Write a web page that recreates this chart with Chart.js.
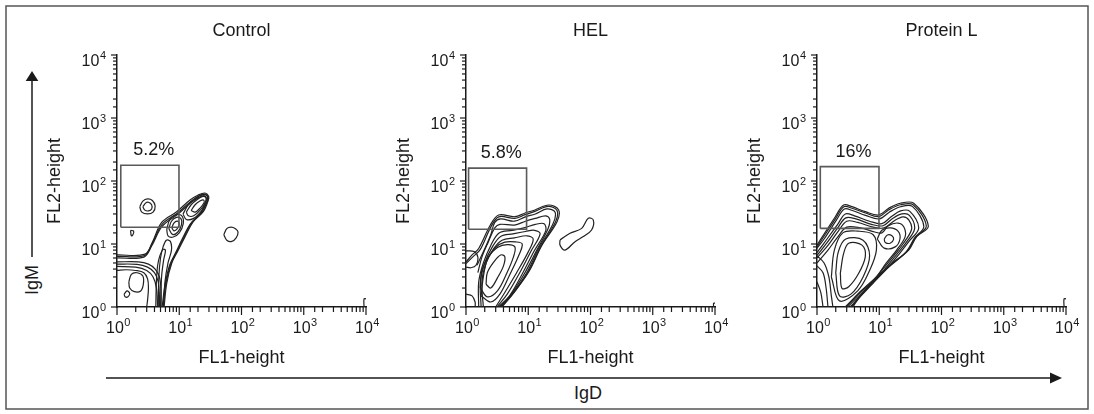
<!DOCTYPE html>
<html>
<head>
<meta charset="utf-8">
<script src="https://cdn.jsdelivr.net/npm/chart.js@4.4.1/dist/chart.umd.min.js"></script>
<style>
  body { margin: 0; background: #fff; }
  #fig { position: relative; width: 1094px; height: 414px; font-family: 'Liberation Sans', Arial, sans-serif; }
  #fig canvas { position: absolute; top: 0; }
  #deco { position: absolute; left: 0; top: 0; }
</style>
</head>
<body>
<div id="fig">
  <svg id="deco" width="1094" height="414">
    <rect x="6" y="6" width="1082" height="403" fill="none" stroke="#555" stroke-width="1.5"/>
    <line x1="106" y1="378" x2="1051" y2="378" stroke="#1a1a1a" stroke-width="1.5"/>
    <polygon points="1062,378 1050,372.5 1050,383.5" fill="#1a1a1a"/>
    <line x1="32" y1="80" x2="32" y2="257" stroke="#1a1a1a" stroke-width="1.5"/>
    <polygon points="32,71 25.7,81 38.3,81" fill="#1a1a1a"/>
    <text x="588" y="394" text-anchor="middle" dominant-baseline="middle" font-size="18" fill="#1a1a1a">IgD</text>
    <text transform="translate(33,280) rotate(-90)" text-anchor="middle" dominant-baseline="middle" font-size="18" fill="#1a1a1a">IgM</text>
  </svg>
  <canvas id="chartControl" width="346" height="373" style="left:40px"></canvas>
  <canvas id="chartHEL" width="346" height="373" style="left:389px"></canvas>
  <canvas id="chartProtL" width="346" height="373" style="left:740px"></canvas>
</div>
<script>
// axis decades and labels
const decadeValues = [1, 10, 100, 1000, 10000];
const decadeExponents = ['0', '1', '2', '3', '4'];

const panelTitles = ['Control', 'HEL', 'Protein L'];
const gatePercents = ['5.2%', '5.8%', '16%'];

// gate rectangles [x1, x2, y1, y2]
const gateControl = [1.15, 9.9, 18.4, 178];
const gateHEL = [1.1, 9.4, 17.1, 160];
const gateProtL = [1.13, 9.9, 17.7, 169];

// ---- Control contours (FL1, FL2) ----
const ctlOuter = [[1,6.7],[2.82,6.9],[3.65,10.4],[5.22,22],[9.1,32.6],[14.9,49.9],[20.2,60],[25.9,64.5],[29.5,58],[29.3,49.9],[24.3,32.6],[16.8,22.6],[12.4,13.1],[9.66,8.0],[7.57,4.94],[6.29,2.38],[5.7,1]];
const ctlOuterB = [[1,6.35],[2.75,6.55],[3.62,9.8],[5.3,20.5],[9.3,30.8],[15.2,47],[20.5,57],[25.5,61.5],[28.3,56.5],[28,49],[23.3,32],[16,22],[11.9,12.8],[9.3,7.8],[7.3,4.8],[6.1,2.3],[5.5,1]];
const ctlC2 = [[1,6.0],[2.7,6.2],[3.6,9.3],[5.3,19],[9.4,29.5],[15.3,45],[20.5,54.5],[25,58.5],[27.2,54],[26.5,47],[22,31],[15.2,21],[11.3,12.3],[8.9,7.5],[7,4.6],[5.9,2.2],[5.3,1]];
const ctlC3 = [[1,5.2],[2.2,5.2],[3.2,4.8],[4.1,4.0],[4.8,3],[5.1,1.8],[5.1,1]];
const ctlC3b = [[1,4.8],[2.1,4.75],[3.1,4.3],[4.0,3.5],[4.6,2.5],[4.8,1.5],[4.8,1]];
const ctlC4 = [[1,4.4],[2.0,4.3],[3,3.8],[3.8,3.0],[4.3,2.0],[4.5,1]];
const ctlC5 = [[1,3.8],[1.4,3.9],[2.0,3.8],[2.7,3.5],[3.1,2.8],[3.2,2.0],[3.1,1.3],[3.0,1]];
const ctlBand = [[4.6,1],[4.7,3],[5.0,6],[5.5,9],[6.2,11.5],[7.2,11],[7.5,8],[6.6,5],[5.9,2.5],[5.6,1]];
const ctlBand2 = [[4.2,1],[4.3,2.6],[4.5,4.6],[4.9,6.6],[5.5,8.2],[6,8],[5.6,5.5],[5.2,3],[5.0,1]];
const ctlPeak = [[1.55,2.5],[1.7,3.3],[2.1,3.5],[2.6,3.1],[2.65,2.3],[2.4,1.8],[1.9,1.75],[1.6,2],[1.55,2.5]];
const ctlSmall = [[1.3,1.6],[1.45,1.8],[1.6,1.65],[1.5,1.45],[1.35,1.45],[1.3,1.6]];
const ctlMid2 = [[6.3,17],[7,24],[8.8,29],[11,28],[11.6,21],[10,15],[8,12.9],[6.6,13.5],[6.3,17]];
const ctlMid = [[6.8,17.5],[7.5,23],[9,26.5],[10.6,25.5],[10.9,20.5],[9.5,15.5],[7.8,14.2],[6.8,17.5]];
const ctlMidIn = [[7.6,18],[8.2,21.5],[9.3,23],[10,21],[9.3,17.5],[8.2,16.2],[7.6,18]];
const ctlUpper2 = [[11.5,30],[14,42],[18.5,54],[24,62],[28.5,58],[28.5,48],[23,34],[17,25.5],[13,24.5],[11.5,30]];
const ctlUpper = [[13,32],[15.5,42],[19.5,51],[24,57],[27,53.5],[26.5,46],[22,35],[17,28],[14,28],[13,32]];
const ctlUpperIn = [[15.5,34],[18,42],[21.5,48],[24.5,50],[25,45],[21.5,37],[18,32],[15.5,34]];
const ctlGateOut = [[2.32,39],[2.6,48],[3.1,52],[3.7,49],[4.1,40],[3.8,32],[3.1,30],[2.5,32],[2.32,39]];
const ctlGateIn = [[2.6,39],[2.9,45],[3.2,46],[3.6,42],[3.6,36],[3.2,33.5],[2.8,34.5],[2.6,39]];
const ctlTiny = [[1.65,16.5],[1.85,16],[1.8,14],[1.7,13.5],[1.65,16.5]];
const ctlSatellite = [[52,14],[58,17.5],[68,18.5],[80,17.5],[88,15.5],[82,12.5],[70,11],[58,11.5],[52,14]];
const ctlCorner = [[9300,1],[9300,1.35],[10000,1.35]];

// ---- HEL contours ----
const helOuter = [[1,5.2],[1.25,6.7],[1.6,8.5],[2.46,20],[3.35,28.9],[6.1,27.1],[8.9,31],[12.8,34.7],[21.3,41.6],[30.8,34.7],[29,22.6],[16.6,9.6],[10.2,3.63],[5.48,1.55],[3.79,1]];
const helOuterB = [[1,4.9],[1.3,6.3],[1.7,8.2],[2.5,18.5],[3.35,27],[6.1,25.5],[8.9,29.2],[12.8,33],[21,39.5],[29,34],[27.5,22.5],[16,9.2],[9.8,3.5],[5.35,1.5],[3.65,1]];
const helC2 = [[1.5,4.6],[1.9,7.5],[2.5,14],[2.9,22],[3.6,25],[6,23],[9,27],[13,30],[20,36],[27,32],[25,21],[15,8.8],[9.3,3.4],[5.2,1.5],[3.5,1]];
const helC2b = [[1.55,3.5],[1.8,6.2],[2.3,11],[2.9,18],[3.5,20.5],[6,20],[9,23],[13,25.5],[19,28],[22,25],[21,18],[14,8.3],[8.7,3.4],[5.1,1.5],[3.4,1]];
const helC3 = [[1.6,1],[1.6,2.5],[1.9,5],[2.5,9.5],[3.4,15],[5.5,16.5],[8.5,18],[13,20.5],[18,21],[19,16],[12.5,7.8],[8.2,3.5],[5,1.5],[3.3,1]];
const helC3b = [[1.75,1],[1.7,2.5],[2.0,5],[2.65,9],[3.6,13.2],[5.7,14.5],[9,15.8],[12.6,16.5],[15.5,14.5],[11,7.6],[7.3,3.5],[4.6,1.6],[3.15,1]];
const helC4 = [[1.9,1],[1.8,2.5],[2.1,5],[2.8,8.5],[3.8,11.5],[6,12.5],[9.5,13.5],[12,12],[10,7.5],[6.5,3.5],[4.2,1.7],[3.0,1]];
const helC4b = [[1.75,1.5],[1.9,3],[2.2,5.6],[3.0,8.8],[4.2,10.7],[6.3,10.8],[8,10],[7,6.5],[5,3.2],[3.5,1.6],[2.5,1.2],[1.75,1.5]];
const helRing = [[1.7,2],[1.8,3.8],[2.3,6.3],[3.2,8.8],[4.6,9.8],[6.1,9],[5.8,6.3],[4.5,3.4],[3.2,1.8],[2.2,1.45],[1.7,2]];
const helCore = [[2.1,2.3],[2.2,3.5],[2.8,5.2],[3.6,6.7],[4.2,6.3],[4,4.5],[3.2,2.9],[2.5,2.0],[2.1,2.3]];
const helLobe = [[1,7.8],[1.35,7.6],[1.55,6.2],[1.45,4.6],[1.2,4.2],[1,4.3]];
const helCornerLL = [[1,1.6],[1.25,1.5],[1.4,1.2],[1.4,1]];
const helSatellite = [[32.4,11.6],[46.9,14.8],[72.2,17.7],[92.2,25.6],[111,24],[104,16.7],[76.6,13.1],[56.4,10.9],[38.9,8.0],[32.4,9.6],[32.4,11.6]];
const helCorner = [[9500,1],[9500,1.15],[10000,1.15]];

// ---- Protein L contours ----
const plOuter = [[1,9.6],[1.13,11.6],[1.97,27.1],[2.68,41.6],[3.65,39.1],[5.97,32.6],[9.8,28.9],[14.2,36.9],[21.8,44.3],[35.8,44.3],[61.4,19.3],[40,13.1],[29.7,8],[16,4.94],[9.8,3.22],[5.28,1.86],[3.23,1.14],[2.85,1]];
const plOuterB = [[1,9],[1.2,11.8],[2.0,25.5],[2.7,39],[3.65,37],[6,31],[9.8,27.2],[14.3,35],[22,42],[35,42],[57,19.2],[38.5,12.8],[28.5,7.8],[15.5,4.7],[9.4,3.0],[5.1,1.75],[3.15,1.07],[2.95,1]];
const plC2 = [[1,8.5],[1.3,12],[2.05,24],[2.75,36],[3.7,34],[6,28.5],[10,25],[14.5,32],[22,39],[34,39.5],[52,19],[37,12.5],[27,7.5],[15,4.5],[9,2.8],[5,1.6],[3.1,1]];
const plC3 = [[1,7.3],[1.45,12],[2.15,20.5],[2.85,30],[4,28],[7,23],[11,21],[15.5,27],[22,33.5],[31,33],[43,18],[30,11],[21,7],[13,4],[8,2.4],[4.6,1.35],[3.4,1]];
const plC3b = [[1,6.6],[1.45,10.5],[2.15,18],[2.9,26],[4.2,25],[7.5,20.5],[11.5,19.5],[16,25],[23,30],[30.5,28.5],[37,17.5],[27,10.5],[19,6.8],[12,3.9],[7.5,2.3],[4.4,1.3],[3.5,1]];
const plC4 = [[1,6],[1.5,9.5],[2.2,16],[3,23],[4.5,22],[8,18.5],[12,18],[17,23],[24,27],[30,24],[33,17],[24,10],[17,6.5],[11,3.8],[7,2.2],[4.2,1.25],[3.6,1]];
const plC5 = [[1,5],[1.5,8],[2.1,12.5],[3.0,18.5],[5,18],[8.5,15.5],[11,15],[14,19.5],[20,21.5],[25,18.5],[26,13],[19,8],[13,5],[9,3],[6,1.9],[4,1.1],[3.8,1]];
const plLow1 = [[1.7,3],[1.9,8],[2.6,15],[4.5,16],[8,14],[9,8],[7,3.8],[4.5,1.8],[2.3,1.25],[1.7,3]];
const plLow2 = [[2,3.5],[2.2,7.5],[2.9,12],[5.5,11.5],[7,6.5],[5.5,3],[3.5,1.6],[2.3,1.5],[2,3.5]];
const plLow3 = [[2.37,3.43],[2.68,7.1],[3.23,10.3],[5.28,9.6],[5.97,6.3],[4.68,3.43],[3.23,2.1],[2.52,1.98],[2.37,3.43]];
const plRight1 = [[9.3,12],[11,16.5],[15,18],[20,16],[21.5,12],[18,9],[12,8.6],[9.3,12]];
const plRight2 = [[12,12],[13.5,13.9],[16,13.5],[17,11.8],[15,10.3],[12.5,10.6],[12,12]];
const plLeft1 = [[1,4.5],[1.25,3.5],[1.4,2],[1.5,1]];
const plLeft2 = [[1,2.5],[1.15,1.7],[1.25,1]];
const plLeft3 = [[1,6.5],[1.3,5],[1.55,3],[1.7,1.5],[1.8,1]];
const plCorner = [[9300,1],[9300,1.35],[10000,1.35]];

const FONT = '"Liberation Sans", Arial, sans-serif';
const isDecade = v => decadeValues.some(d => Math.abs(d - v) < d * 1e-6);

// tick marks (long at decades) and "10^n" labels with raised exponent
const logAxisMarks = {
    id: 'logAxisMarks',
    afterDraw(chart) {
        const { ctx, chartArea } = chart;
        const xs = chart.scales.x, ys = chart.scales.y;
        ctx.save();
        ctx.strokeStyle = '#1a1a1a';
        ctx.lineWidth = 1.2;
        xs.ticks.forEach(t => {
            const px = xs.getPixelForValue(t.value);
            const len = isDecade(t.value) ? 8 : 5;
            ctx.beginPath();
            ctx.moveTo(px, chartArea.bottom);
            ctx.lineTo(px, chartArea.bottom + len);
            ctx.stroke();
        });
        ys.ticks.forEach(t => {
            const py = ys.getPixelForValue(t.value);
            const len = isDecade(t.value) ? 6 : 4;
            ctx.beginPath();
            ctx.moveTo(chartArea.left, py);
            ctx.lineTo(chartArea.left - len, py);
            ctx.stroke();
        });
        ctx.fillStyle = '#1a1a1a';
        ctx.textAlign = 'left';
        ctx.textBaseline = 'alphabetic';
        decadeValues.forEach((v, i) => {
            const exp = decadeExponents[i];
            ctx.font = '16px ' + FONT;
            const wb = ctx.measureText('10').width;
            ctx.font = '11px ' + FONT;
            const we = ctx.measureText(exp).width;
            // x axis label
            const px = xs.getPixelForValue(v);
            const lx = px - (wb + we) / 2 + 1;
            ctx.font = '16px ' + FONT;
            ctx.fillText('10', lx, chartArea.bottom + 26);
            ctx.font = '11px ' + FONT;
            ctx.fillText(exp, lx + wb + 0.5, chartArea.bottom + 19);
            // y axis label
            const py = ys.getPixelForValue(v);
            const rx = chartArea.left - 11;
            ctx.font = '16px ' + FONT;
            ctx.fillText('10', rx - we - wb - 0.5, py + 10.5);
            ctx.font = '11px ' + FONT;
            ctx.fillText(exp, rx - we, py + 3.5);
        });
        ctx.restore();
    }
};

const gateLabel = (text, gate) => ({
    id: 'gateLabel',
    afterDatasetsDraw(chart) {
        const { ctx } = chart;
        const px = chart.scales.x.getPixelForValue(Math.sqrt(gate[0] * gate[1]) * 1.15);
        const py = chart.scales.y.getPixelForValue(gate[3]) - 15;
        ctx.save();
        ctx.font = '18px ' + FONT;
        ctx.fillStyle = '#1a1a1a';
        ctx.textAlign = 'center';
        ctx.textBaseline = 'middle';
        ctx.fillText(text, px, py);
        ctx.restore();
    }
});

const toPoints = pairs => pairs.map(([x, y]) => ({ x, y }));

const contourDatasets = list => list.map(c => ({
    data: toPoints(c),
    showLine: true,
    borderColor: '#222',
    borderWidth: 1.2,
    pointRadius: 0,
    tension: 0.35,
    fill: false,
}));

const gateDataset = g => ({
    data: toPoints([[g[0], g[2]], [g[1], g[2]], [g[1], g[3]], [g[0], g[3]], [g[0], g[2]]]),
    showLine: true,
    borderColor: '#5a5a5a',
    borderWidth: 1.6,
    pointRadius: 0,
    tension: 0,
    fill: false,
});

const logAxis = (position, label, size) => ({
    type: 'logarithmic',
    position,
    min: 1,
    max: 10000,
    border: { display: true, color: '#1a1a1a', width: 1.5 },
    grid: { display: true, drawOnChartArea: false, drawTicks: true, tickLength: 7, tickColor: 'rgba(0,0,0,0)' },
    ticks: {
        autoSkip: false,
        maxRotation: 0,
        padding: 4,
        color: 'rgba(0,0,0,0)',
        font: { size: 16 },
        callback: v => isDecade(v) ? '10' : ''
    },
    title: { display: true, text: label, color: '#1a1a1a', font: { size: 18 }, padding: { top: 4, bottom: 4 } },
    afterFit: s => {
        if (position === 'left') s.width = size; else s.height = size;
    }
});

const createFlowChart = (ctxId, title, pct, gate, contours) => {
    return new Chart(document.getElementById(ctxId), {
        type: 'scatter',
        data: {
            datasets: [gateDataset(gate), ...contourDatasets(contours)]
        },
        options: {
            responsive: false,
            animation: false,
            layout: { padding: { left: 0, right: 20, top: 0, bottom: 0 } },
            scales: {
                x: logAxis('bottom', 'FL1-height', 66),
                y: logAxis('left', 'FL2-height', 77),
                x2: {
                    axis: 'x',
                    type: 'linear',
                    position: 'top',
                    ticks: { display: false },
                    grid: { display: false },
                    border: { display: false },
                    title: { display: true, text: title, color: '#1a1a1a', font: { size: 18 }, padding: { top: 20, bottom: 0 } },
                    afterFit: s => { s.height = 55; }
                }
            },
            plugins: {
                legend: { display: false },
                tooltip: { enabled: false },
            }
        },
        plugins: [logAxisMarks, gateLabel(pct, gate)]
    });
};

Chart.defaults.font.family = FONT;

createFlowChart('chartControl', panelTitles[0], gatePercents[0], gateControl,
    [ctlOuter, ctlOuterB, ctlC2, ctlC3, ctlC3b, ctlC4, ctlC5, ctlBand, ctlBand2, ctlPeak, ctlSmall,
     ctlMid2, ctlMid, ctlMidIn, ctlUpper2, ctlUpper, ctlUpperIn, ctlGateOut, ctlGateIn, ctlTiny,
     ctlSatellite, ctlCorner]);
createFlowChart('chartHEL', panelTitles[1], gatePercents[1], gateHEL,
    [helOuter, helOuterB, helC2, helC2b, helC3, helC3b, helC4, helC4b, helRing, helCore, helLobe,
     helCornerLL, helSatellite, helCorner]);
createFlowChart('chartProtL', panelTitles[2], gatePercents[2], gateProtL,
    [plOuter, plOuterB, plC2, plC3, plC3b, plC4, plC5, plLow1, plLow2, plLow3, plRight1, plRight2,
     plLeft1, plLeft2, plLeft3, plCorner]);
</script>
</body>
</html>
